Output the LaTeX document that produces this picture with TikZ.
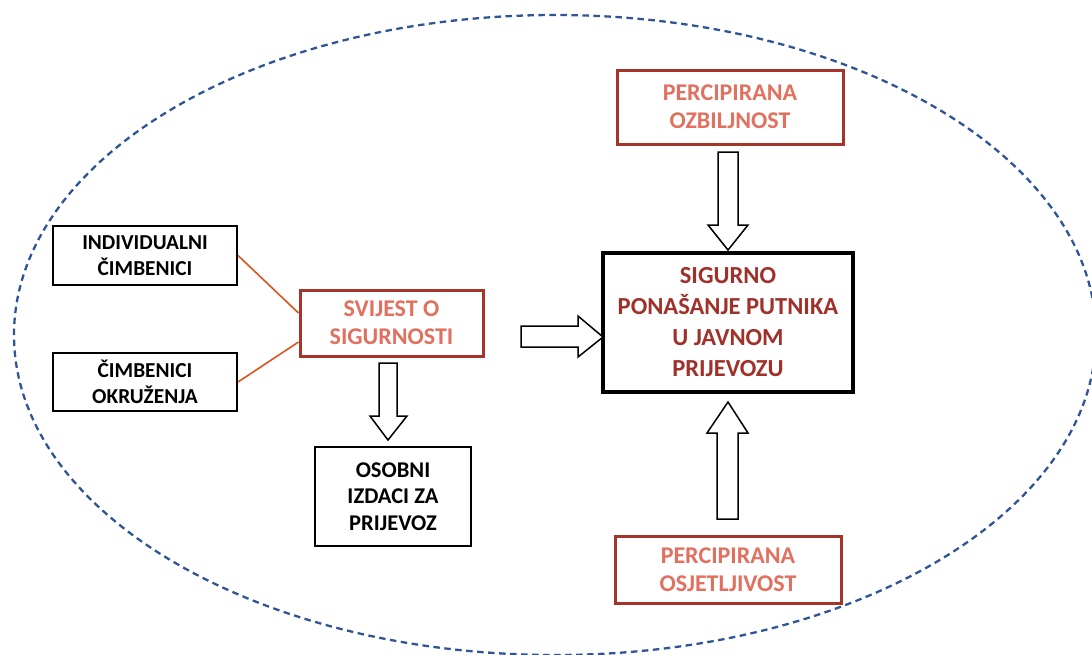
\documentclass[tikz,border=0pt]{standalone}
\usepackage{fontspec}
\setmainfont{Carlito}
\usetikzlibrary{calc}
\definecolor{darkred}{HTML}{A5352B}
\definecolor{salmon}{HTML}{E2705E}
\definecolor{sigtext}{HTML}{A0302A}
\definecolor{ellblue}{HTML}{2F5597}
\definecolor{linkorange}{HTML}{D9541E}
\tikzset{
  redbox/.style={draw=darkred, line width=3pt, fill=white, text=salmon, align=center, font=\bfseries\fontsize{24}{28}\selectfont, inner sep=0pt},
  blackbox/.style={draw=black, line width=2pt, fill=white, text=black, align=center, font=\bfseries\fontsize{21.3}{25.5}\selectfont, inner sep=0pt},
  mainbox/.style={draw=black, line width=3.5pt, fill=white, text=sigtext, align=center, font=\bfseries\fontsize{24.5}{31}\selectfont, inner sep=0pt},
  barrow/.style={draw=black, line width=1.5pt, fill=white, line join=miter},
  link/.style={draw=linkorange, line width=1.6pt},
  ell/.style={draw=ellblue, line width=2.3pt, dash pattern=on 6.5pt off 4.5pt}
}
\begin{document}
\begin{tikzpicture}[x=1pt,y=-1pt]
\useasboundingbox (0,0) rectangle (1092,654);
\begin{scope}
\clip (0,0) rectangle (1092,654);
\draw[ell] (555,335) ellipse [x radius=541, y radius=320];
\end{scope}

\node[redbox, minimum width=226, minimum height=74] (oz) at (730,107) {PERCIPIRANA\\OZBILJNOST};
\node[mainbox, minimum width=250, minimum height=139] (sig) at (728,322.5) {SIGURNO\\PONAŠANJE PUTNIKA\\U JAVNOM\\PRIJEVOZU};
\node[redbox, minimum width=226, minimum height=67] (os) at (728,569.5) {PERCIPIRANA\\OSJETLJIVOST};
\node[blackbox, minimum width=184, minimum height=59] (ind) at (145,255.5) {INDIVIDUALNI\\ČIMBENICI};
\node[blackbox, minimum width=184, minimum height=58] (okr) at (145,382) {ČIMBENICI\\OKRUŽENJA};
\node[redbox, minimum width=183, minimum height=66] (svi) at (391.5,323) {SVIJEST O\\SIGURNOSTI};
\node[blackbox, minimum width=156, minimum height=99, font=\bfseries\fontsize{22.5}{26.5}\selectfont] (izd) at (393,496.5) {OSOBNI\\IZDACI ZA\\PRIJEVOZ};

% orange links
\draw[link] (ind.east) -- ([yshift=10pt]svi.west);
\draw[link] (okr.east) -- ([yshift=-19pt]svi.west);

% block arrows
\coordinate (t1) at (728,250);
\draw[barrow] (718,152) -- (718,225) -- (708,225) -- (t1) -- (748,225) -- (738,225) -- (738,152) -- cycle;
\coordinate (t2) at (603,337);
\draw[barrow] (521,326) -- (578,326) -- (578,316) -- (t2) -- (578,357) -- (578,347) -- (521,347) -- cycle;
\coordinate (t3) at (728,402);
\draw[barrow] (717,519) -- (717,433) -- (707,433) -- (t3) -- (748,433) -- (738,433) -- (738,519) -- cycle;
\coordinate (t4) at (388,440);
\draw[barrow] (379,363) -- (379,416) -- (370,416) -- (t4) -- (407,416) -- (397,416) -- (397,363) -- cycle;
\end{tikzpicture}
\end{document}
